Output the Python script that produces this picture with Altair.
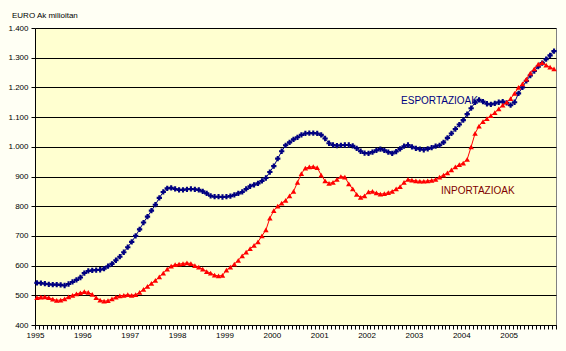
import altair as alt
import pandas as pd

years = list(range(1995, 2006))

esport = [
    542, 541, 539, 537, 536, 536, 535, 533, 538, 545, 552, 560,   # 1995
    575, 582, 584, 585, 586, 590, 598, 606, 618, 630, 645, 662,   # 1996
    680, 700, 722, 745, 765, 785, 805, 828, 848, 860, 862, 858,   # 1997
    855, 855, 857, 858, 857, 855, 850, 843, 835, 832, 832, 831,   # 1998
    832, 834, 838, 843, 848, 858, 867, 872, 877, 885, 895, 915,   # 1999
    935, 960, 985, 1005, 1015, 1025, 1032, 1040, 1045, 1046, 1046, 1045,  # 2000
    1040, 1028, 1012, 1006, 1004, 1005, 1006, 1006, 1003, 995, 985, 979,  # 2001
    978, 982, 988, 992, 988, 982, 978, 984, 993, 1002, 1006, 1000,  # 2002
    995, 992, 990, 993, 997, 1002, 1005, 1015, 1030, 1045, 1060, 1075,  # 2003
    1090, 1110, 1130, 1150, 1158, 1152, 1145, 1143, 1146, 1150, 1152, 1148,  # 2004
    1140, 1150, 1180, 1200, 1222, 1240, 1255, 1270, 1282, 1295, 1308, 1322,  # 2005
]

inport = [
    492, 494, 495, 492, 487, 483, 484, 488, 495, 500, 505, 508,   # 1995
    512, 510, 503, 492, 484, 480, 482, 488, 494, 498, 500, 502,   # 1996
    500, 502, 510, 520, 530, 540, 550, 562, 575, 588, 598, 603,   # 1997
    605, 607, 609, 607, 600, 595, 588, 580, 575, 568, 565, 567,   # 1998
    585, 595, 605, 618, 633, 645, 657, 668, 680, 700, 720, 760,   # 1999
    785, 800, 810, 820, 835, 850, 880, 910, 928, 932, 933, 930,   # 2000
    905, 885, 877, 880, 890, 900, 898, 875, 858, 840, 830, 835,   # 2001
    848, 850, 845, 841, 842, 846, 850, 858, 866, 880, 890, 888,   # 2002
    885, 884, 884, 885, 887, 890, 898, 905, 912, 922, 932, 940,   # 2003
    945, 958, 1000, 1045, 1070, 1085, 1095, 1105, 1115, 1128, 1140, 1150,  # 2004
    1162, 1180, 1200, 1212, 1228, 1248, 1262, 1278, 1283, 1275, 1268, 1262,  # 2005
]

series_names = ["ESPORTAZIOAK", "INPORTAZIOAK"]
y_ticks = list(range(400, 1401, 100))

t = [y + (m + 0.5) / 12 for y in years for m in range(12)]
df_e = pd.DataFrame({"t": t, "v": esport})
df_i = pd.DataFrame({"t": t, "v": inport})

month_ticks = [y + m / 12 for y in years for m in range(12)] + [2006]

FONT = "Liberation Sans"

xscale = alt.Scale(domain=[1995, 2006], nice=False, zero=False)
yscale = alt.Scale(domain=[400, 1400], nice=False, zero=False)

xaxis = alt.Axis(
    values=month_ticks, grid=False, domainColor="black", tickColor="black",
    tickSize=4, labelFontSize=8, labelFont=FONT, labelColor="black",
    labelExpr="abs(datum.value - round(datum.value)) < 0.001 && datum.value < 2005.5 ? format(datum.value, 'd') : ''",
    labelPadding=2, title=None, labelOverlap=False, labelFlush=False,
)
yaxis = alt.Axis(
    values=y_ticks, grid=True, gridColor="black", gridOpacity=1, gridWidth=1,
    domainColor="black", tickColor="black", tickSize=4, labelFontSize=8,
    labelFont=FONT, labelColor="black", labelOverlap=False,
    labelExpr="replace(format(datum.value, ','), ',', '.')",
    labelPadding=3, title=None,
)

X = alt.X("t:Q", scale=xscale, axis=xaxis)
Y = alt.Y("v:Q", scale=yscale, axis=yaxis)

line_e = alt.Chart(df_e).mark_line(color="#000080", strokeWidth=1).encode(x=X, y=Y)
pts_e = alt.Chart(df_e).mark_point(shape="cross", filled=True, color="#000080", size=28, opacity=1).encode(x=X, y=Y)
line_i = alt.Chart(df_i).mark_line(color="#FF0000", strokeWidth=1).encode(x=X, y=Y)
pts_i = alt.Chart(df_i).mark_point(shape="triangle-up", filled=True, color="#FF0000", size=30, opacity=1).encode(x=X, y=Y)

lab_df = pd.DataFrame({"t": [2003.54, 2004.35], "v": [1154, 851], "name": series_names,
                       "col": ["#000080", "#800000"]})
labels = alt.Chart(lab_df).mark_text(fontSize=10, font=FONT, align="center", baseline="middle").encode(
    x=X, y=Y, text="name:N", color=alt.Color("col:N", scale=None))

title = alt.Chart(pd.DataFrame({"s": ["EURO Ak milioitan"]})).mark_text(
    fontSize=8, font=FONT, align="left", baseline="middle", color="black").encode(
    x=alt.value(-23), y=alt.value(-12), text="s:N")

chart = alt.layer(line_e, pts_e, line_i, pts_i, labels, title).properties(
    width=521, height=297,
    autosize=alt.AutoSizeParams(type="none"),
    padding={"left": 35, "top": 28, "right": 10, "bottom": 26},
    background="#FFFFF4",
).configure_view(fill="#FFFFD0", stroke="#808080", strokeWidth=1)

chart.save("out.html", embed_options={"renderer": "svg", "actions": False})
